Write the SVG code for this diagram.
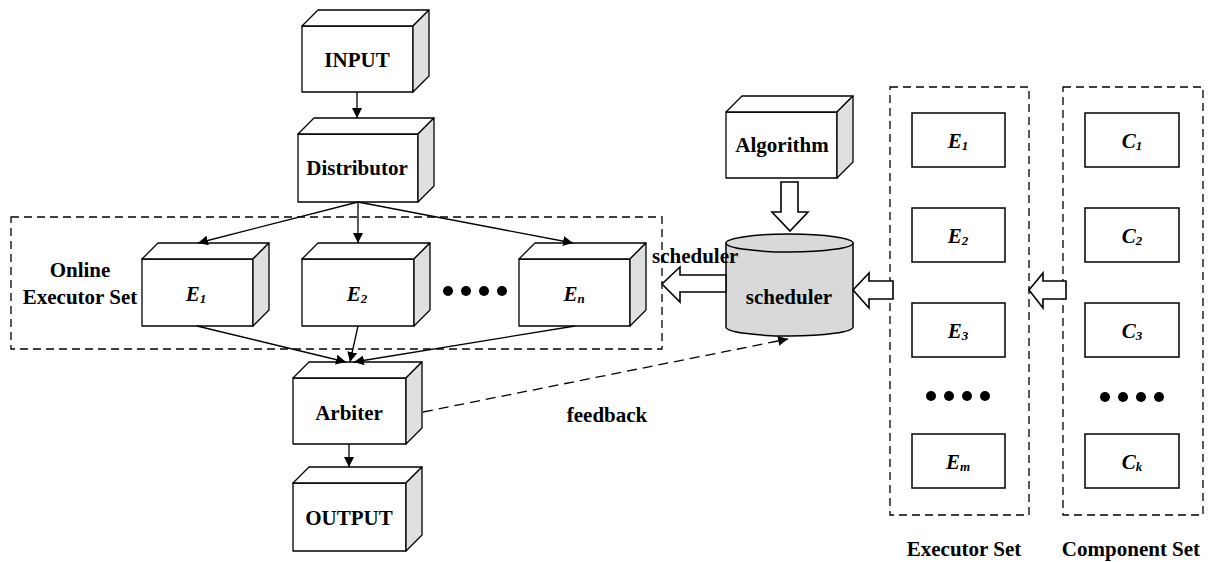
<svg xmlns="http://www.w3.org/2000/svg" width="1210" height="562" viewBox="0 0 1210 562">
  <style>
    .face { fill: #ffffff; stroke: #000; stroke-width: 1.3; stroke-linejoin: round; }
    .side { fill: #e0e0e0; stroke: #000; stroke-width: 1.3; stroke-linejoin: round; }
    .box { fill: #ffffff; stroke: #000; stroke-width: 1.5; }
    .group { fill: none; stroke: #000; stroke-width: 1.3; stroke-dasharray: 8 5; }
    .lbl { font-family: "Liberation Serif", "Times New Roman", serif; font-weight: bold; font-size: 21px; fill: #000; }
    .var { font-family: "Liberation Serif", "Times New Roman", serif; font-weight: bold; font-style: italic; font-size: 21px; fill: #000; }
    .sub { font-size: 13px; }
    .edge { fill: none; stroke: #000; stroke-width: 1.3; }
    .fat { fill: #fff; stroke: #000; stroke-width: 1.6; stroke-linejoin: miter; }
    .dot { fill: #000; }
  </style>
  <defs>
    <marker id="arrow" viewBox="0 0 10 10" refX="10" refY="5" markerWidth="10" markerHeight="10" markerUnits="userSpaceOnUse" orient="auto">
      <path d="M0,0 L10,5 L0,10 z" fill="#000"/>
    </marker>
  </defs>

  <!-- dashed set frames -->
  <g id="online-set">
    <rect class="group" x="11" y="217" width="651" height="132"/>
    <text class="lbl" x="80" y="277" text-anchor="middle">Online</text>
    <text class="lbl" x="80" y="304" text-anchor="middle">Executor Set</text>
  </g>

  <!-- 3D blocks: front face, top face, right side -->
  <g id="input">
    <rect class="face" x="302" y="26" width="111" height="66"/>
    <polygon class="face" points="302,26 318,10 429,10 413,26"/>
    <polygon class="side" points="413,26 429,10 429,76 413,92"/>
    <text class="lbl" x="357" y="67" text-anchor="middle">INPUT</text>
  </g>
  <g id="distributor">
    <rect class="face" x="298" y="134" width="120" height="68"/>
    <polygon class="face" points="298,134 314,118 434,118 418,134"/>
    <polygon class="side" points="418,134 434,118 434,186 418,202"/>
    <text class="lbl" x="357" y="175" text-anchor="middle">Distributor</text>
  </g>
  <g id="e1">
    <rect class="face" x="142" y="259" width="111" height="67"/>
    <polygon class="face" points="142,259 158,243 269,243 253,259"/>
    <polygon class="side" points="253,259 269,243 269,310 253,326"/>
    <text class="var" x="196" y="301" text-anchor="middle">E<tspan class="sub" dy="2">1</tspan></text>
  </g>
  <g id="e2">
    <rect class="face" x="302" y="259" width="112" height="67"/>
    <polygon class="face" points="302,259 318,243 430,243 414,259"/>
    <polygon class="side" points="414,259 430,243 430,310 414,326"/>
    <text class="var" x="357" y="301" text-anchor="middle">E<tspan class="sub" dy="2">2</tspan></text>
  </g>
  <g id="ellipsis-online">
    <circle class="dot" cx="448" cy="291" r="5"/>
    <circle class="dot" cx="466" cy="291" r="5"/>
    <circle class="dot" cx="484" cy="291" r="5"/>
    <circle class="dot" cx="502" cy="291" r="5"/>
  </g>
  <g id="en">
    <rect class="face" x="519" y="259" width="111" height="67"/>
    <polygon class="face" points="519,259 535,243 646,243 630,259"/>
    <polygon class="side" points="630,259 646,243 646,310 630,326"/>
    <text class="var" x="574" y="301" text-anchor="middle">E<tspan class="sub" dy="2">n</tspan></text>
  </g>
  <g id="arbiter">
    <rect class="face" x="293" y="378" width="113" height="66"/>
    <polygon class="face" points="293,378 309,362 422,362 406,378"/>
    <polygon class="side" points="406,378 422,362 422,428 406,444"/>
    <text class="lbl" x="349" y="420" text-anchor="middle">Arbiter</text>
  </g>
  <g id="output">
    <rect class="face" x="293" y="483" width="113" height="68"/>
    <polygon class="face" points="293,483 309,467 422,467 406,483"/>
    <polygon class="side" points="406,483 422,467 422,535 406,551"/>
    <text class="lbl" x="349" y="525" text-anchor="middle">OUTPUT</text>
  </g>
  <g id="algorithm">
    <rect class="face" x="726" y="112" width="111" height="66"/>
    <polygon class="face" points="726,112 742,96 853,96 837,112"/>
    <polygon class="side" points="837,112 853,96 853,162 837,178"/>
    <text class="lbl" x="782" y="152" text-anchor="middle">Algorithm</text>
  </g>

  <!-- scheduler drum -->
  <g id="scheduler">
    <path d="M726,243 L726,327 A63.5,9 0 0 0 853,327 L853,243" fill="#d9d9d9" stroke="#000" stroke-width="1.5"/>
    <ellipse cx="789.5" cy="243" rx="63.5" ry="9" fill="#d9d9d9" stroke="#000" stroke-width="1.5"/>
    <text class="lbl" x="789" y="304" text-anchor="middle">scheduler</text>
  </g>
  <text id="scheduler-label" class="lbl" x="652" y="263">scheduler</text>

  <!-- executor pool -->
  <g id="executor-set">
    <rect class="group" x="890" y="87" width="139" height="428"/>
    <rect class="box" x="912" y="113" width="93" height="54"/>
    <text class="var" x="958" y="148" text-anchor="middle">E<tspan class="sub" dy="2">1</tspan></text>
    <rect class="box" x="912" y="208" width="93" height="54"/>
    <text class="var" x="958" y="243" text-anchor="middle">E<tspan class="sub" dy="2">2</tspan></text>
    <rect class="box" x="912" y="303" width="93" height="54"/>
    <text class="var" x="958" y="338" text-anchor="middle">E<tspan class="sub" dy="2">3</tspan></text>
    <circle class="dot" cx="931" cy="396" r="5"/>
    <circle class="dot" cx="949" cy="396" r="5"/>
    <circle class="dot" cx="967" cy="396" r="5"/>
    <circle class="dot" cx="985" cy="396" r="5"/>
    <rect class="box" x="912" y="434" width="93" height="54"/>
    <text class="var" x="958" y="469" text-anchor="middle">E<tspan class="sub" dy="2">m</tspan></text>
    <text class="lbl" x="964" y="556" text-anchor="middle">Executor Set</text>
  </g>

  <!-- component pool -->
  <g id="component-set">
    <rect class="group" x="1063" y="87" width="140" height="428"/>
    <rect class="box" x="1085" y="113" width="94" height="54"/>
    <text class="var" x="1132" y="148" text-anchor="middle">C<tspan class="sub" dy="2">1</tspan></text>
    <rect class="box" x="1085" y="208" width="94" height="54"/>
    <text class="var" x="1132" y="243" text-anchor="middle">C<tspan class="sub" dy="2">2</tspan></text>
    <rect class="box" x="1085" y="303" width="94" height="54"/>
    <text class="var" x="1132" y="338" text-anchor="middle">C<tspan class="sub" dy="2">3</tspan></text>
    <circle class="dot" cx="1105" cy="397" r="5"/>
    <circle class="dot" cx="1123" cy="397" r="5"/>
    <circle class="dot" cx="1141" cy="397" r="5"/>
    <circle class="dot" cx="1159" cy="397" r="5"/>
    <rect class="box" x="1085" y="434" width="94" height="54"/>
    <text class="var" x="1132" y="469" text-anchor="middle">C<tspan class="sub" dy="2">k</tspan></text>
    <text class="lbl" x="1131" y="556" text-anchor="middle">Component Set</text>
  </g>

  <!-- connectors -->
  <g id="connectors">
    <line class="edge" x1="357" y1="92" x2="357" y2="118" marker-end="url(#arrow)"/>
    <line class="edge" x1="358" y1="202" x2="198" y2="243" marker-end="url(#arrow)"/>
    <line class="edge" x1="358" y1="202" x2="358" y2="243" marker-end="url(#arrow)"/>
    <line class="edge" x1="358" y1="202" x2="573" y2="243" marker-end="url(#arrow)"/>
    <line class="edge" x1="197" y1="326" x2="346" y2="362" marker-end="url(#arrow)"/>
    <line class="edge" x1="358" y1="326" x2="350" y2="362" marker-end="url(#arrow)"/>
    <line class="edge" x1="575" y1="326" x2="354" y2="362" marker-end="url(#arrow)"/>
    <line class="edge" x1="349" y1="444" x2="349" y2="467" marker-end="url(#arrow)"/>
    <line class="edge" x1="423" y1="412" x2="788" y2="339" stroke-dasharray="10 6" marker-end="url(#arrow)"/>
    <text class="lbl" x="607" y="422" text-anchor="middle">feedback</text>
    <!-- hollow block arrows -->
    <polygon class="fat" points="781,182 798,182 798,212 808,212 790,231 772,212 781,212"/>
    <polygon class="fat" points="726,275 680,275 680,267 662,284 680,302 680,292 726,292"/>
    <polygon class="fat" points="893,281 869,281 869,273 853,290 869,308 869,299 893,299"/>
    <polygon class="fat" points="1066,281 1043,281 1043,273 1029,290 1043,308 1043,299 1066,299"/>
  </g>
</svg>
